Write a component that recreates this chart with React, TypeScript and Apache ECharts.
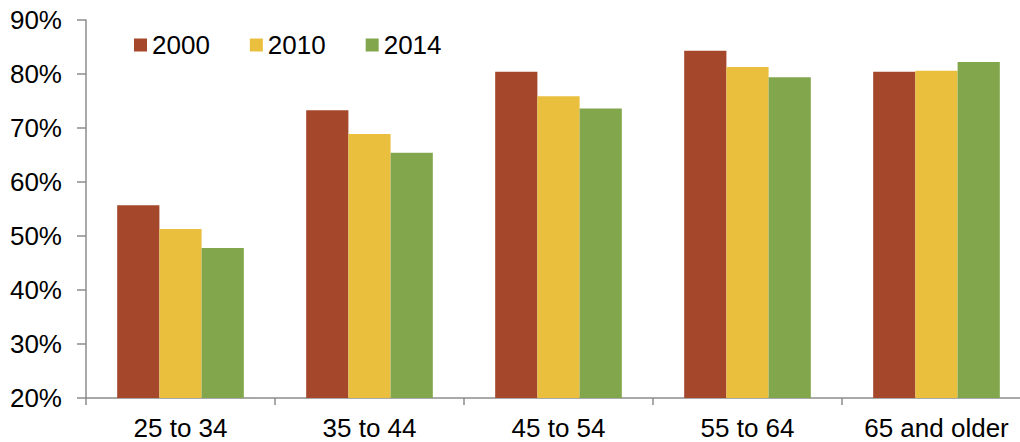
import React, { useEffect, useRef } from "react";
import * as echarts from "echarts";

const categories = ["25 to 34", "35 to 44", "45 to 54", "55 to 64", "65 and older"];
const seriesNames = ["2000", "2010", "2014"];
const values2000 = [55.7, 73.3, 80.4, 84.3, 80.4];
const values2010 = [51.3, 68.9, 75.9, 81.3, 80.6];
const values2014 = [47.8, 65.4, 73.6, 79.4, 82.2];
const colors = ["#A5472A", "#EABF3D", "#82A64C"];

export default function App() {
  const ref = useRef<HTMLDivElement>(null);
  useEffect(() => {
    if (!ref.current) return;
    const chart = echarts.init(ref.current, null, { renderer: "svg" });
    const font = "Liberation Sans, Arial, sans-serif";
    const data = [values2000, values2010, values2014];
    chart.setOption({
      animation: false,
      textStyle: { fontFamily: font },
      legend: {
        left: 134,
        top: 32,
        padding: 0,
        itemWidth: 13,
        itemHeight: 13,
        itemGap: 40,
        icon: "rect",
        textStyle: { fontSize: 26, color: "#000", fontFamily: font },
        data: seriesNames,
      },
      grid: { left: 86, width: 945, top: 20, bottom: 44, containLabel: false, outerBoundsMode: "none" },
      xAxis: {
        type: "category",
        data: categories,
        axisLine: { lineStyle: { color: "#8c8c8c", width: 1.5 } },
        axisTick: { show: true, length: 7, lineStyle: { color: "#8c8c8c", width: 1.5 } },
        axisLabel: { fontSize: 26, color: "#000", margin: 17, interval: 0, fontFamily: font },
      },
      yAxis: {
        type: "value",
        min: 20,
        max: 90,
        interval: 10,
        axisLine: { show: true, lineStyle: { color: "#8c8c8c", width: 1.5 } },
        axisTick: { show: true, length: 9, lineStyle: { color: "#8c8c8c", width: 1.5 } },
        splitLine: { show: false },
        axisLabel: { fontSize: 26, color: "#000", margin: 24, formatter: "{value}%", fontFamily: font },
      },
      series: seriesNames.map((name, i) => ({
        name,
        type: "bar",
        data: data[i],
        barGap: "0%",
        barCategoryGap: "33%",
        itemStyle: { color: colors[i] },
      })),
    });
    return () => chart.dispose();
  }, []);
  return (
    <div style={{ position: "absolute", left: 0, top: 0, width: 1020, height: 442, overflow: "hidden" }}>
      <div ref={ref} style={{ width: 1040, height: 442 }} />
    </div>
  );
}
